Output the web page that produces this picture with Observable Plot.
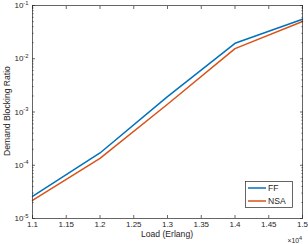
<!DOCTYPE html>
<html><head><meta charset="utf-8">
<script src="https://cdn.jsdelivr.net/npm/d3@7"></script>
<script src="https://cdn.jsdelivr.net/npm/@observablehq/plot@0.6"></script>
<style>
body{margin:0;background:#fff}
svg{font-family:"Liberation Sans",Arial,Helvetica,sans-serif}
</style>
</head><body><div id="chart"></div>
<script>
const loads = [11000, 12000, 13000, 14000, 15000];
const ff = [2.6e-5, 1.7e-4, 1.95e-3, 1.95e-2, 5.5e-2];
const nsa = [2.2e-5, 1.35e-4, 1.4e-3, 1.55e-2, 5.0e-2];
const series = ["FF", "NSA"];
const colors = ["#0072BD", "#D95319"];
const xTicks = [11000, 11500, 12000, 12500, 13000, 13500, 14000, 14500, 15000];
const xTickLabels = ["1.1", "1.15", "1.2", "1.25", "1.3", "1.35", "1.4", "1.45", "1.5"];
const yTicks = [1e-5, 1e-4, 1e-3, 1e-2, 1e-1];
const yTickExps = ["-5", "-4", "-3", "-2", "-1"];
const xLabel = "Load (Erlang)";
const yLabel = "Demand Blocking Ratio";
const xExp = "4";

const values = [ff, nsa];
const rows = series.flatMap((s, i) => loads.map((x, j) => ({series: s, x, y: values[i][j]})));
const yMinor = [];
for (let k = 0; k < yTicks.length - 1; k++) for (let m = 2; m <= 9; m++) yMinor.push(yTicks[k] * m);

const ink = "#262626";
const blank = () => "";
const plot = Plot.plot({
  width: 308, height: 244,
  marginLeft: 32, marginRight: 6, marginTop: 5, marginBottom: 26,
  style: {fontSize: "8px", color: ink, background: "#fff"},
  x: {type: "linear", domain: [11000, 15000]},
  y: {type: "log", domain: [1e-5, 1e-1]},
  color: {domain: series, range: colors},
  marks: [
    Plot.line(rows, {x: "x", y: "y", stroke: "series", z: "series", strokeWidth: 1.5}),
    Plot.frame({stroke: ink, strokeWidth: 0.7}),
    Plot.axisX({anchor: "bottom", ticks: xTicks, tickSize: -3, tickPadding: 6, label: null,
      tickFormat: d => xTickLabels[xTicks.indexOf(d)], stroke: ink, strokeWidth: 0.7, fill: ink}),
    Plot.axisX({anchor: "top", ticks: xTicks, tickSize: -3, label: null, tickFormat: blank, stroke: ink, strokeWidth: 0.7}),
    Plot.axisY({anchor: "left", ticks: yTicks, tickSize: -3, tickPadding: 7, label: null,
      tickFormat: d => yTickExps[yTicks.indexOf(d)], stroke: ink, strokeWidth: 0.7, fill: ink}),
    Plot.axisY({anchor: "left", ticks: yMinor, tickSize: -1.6, label: null, tickFormat: blank, stroke: ink, strokeWidth: 0.6}),
    Plot.axisY({anchor: "right", ticks: yTicks, tickSize: -3, label: null, tickFormat: blank, stroke: ink, strokeWidth: 0.7}),
    Plot.axisY({anchor: "right", ticks: yMinor, tickSize: -1.6, label: null, tickFormat: blank, stroke: ink, strokeWidth: 0.6})
  ]
});
document.getElementById("chart").appendChild(plot);

const svg = d3.select(plot);
// superscript y tick labels
svg.selectAll('g[aria-label="y-axis tick label"] text').each(function() {
  const t = d3.select(this);
  const e = t.text();
  if (!e) return;
  t.text("");
  t.append("tspan").text("10");
  t.append("tspan").attr("dy", "-3.5").attr("font-size", "5.8px").text(e);
});

// axis titles
svg.append("text").attr("x", 167).attr("y", 237).attr("text-anchor", "middle")
  .attr("font-size", "8.6px").attr("fill", ink).text(xLabel);
svg.append("text").attr("transform", "translate(10,111) rotate(-90)").attr("text-anchor", "middle")
  .attr("font-size", "8.6px").attr("fill", ink).text(yLabel);
const ex = svg.append("text").attr("x", 302).attr("y", 243).attr("text-anchor", "end")
  .attr("font-size", "6.8px").attr("fill", ink);
ex.append("tspan").text("×10");
ex.append("tspan").attr("dy", "-3.5").attr("font-size", "5.5px").text(xExp);

// legend
const lg = svg.append("g");
lg.append("rect").attr("x", 245.5).attr("y", 181.5).attr("width", 47).attr("height", 26)
  .attr("fill", "#fff").attr("stroke", ink).attr("stroke-width", 0.7);
series.forEach((s, i) => {
  const yy = 188 + i * 13;
  lg.append("line").attr("x1", 248).attr("x2", 266).attr("y1", yy).attr("y2", yy)
    .attr("stroke", colors[i]).attr("stroke-width", 1.5);
  lg.append("text").attr("x", 268).attr("y", yy).attr("dy", "0.35em").attr("font-size", "8.6px")
    .attr("text-anchor", "start").attr("fill", ink).text(s);
});
</script>
</body></html>
